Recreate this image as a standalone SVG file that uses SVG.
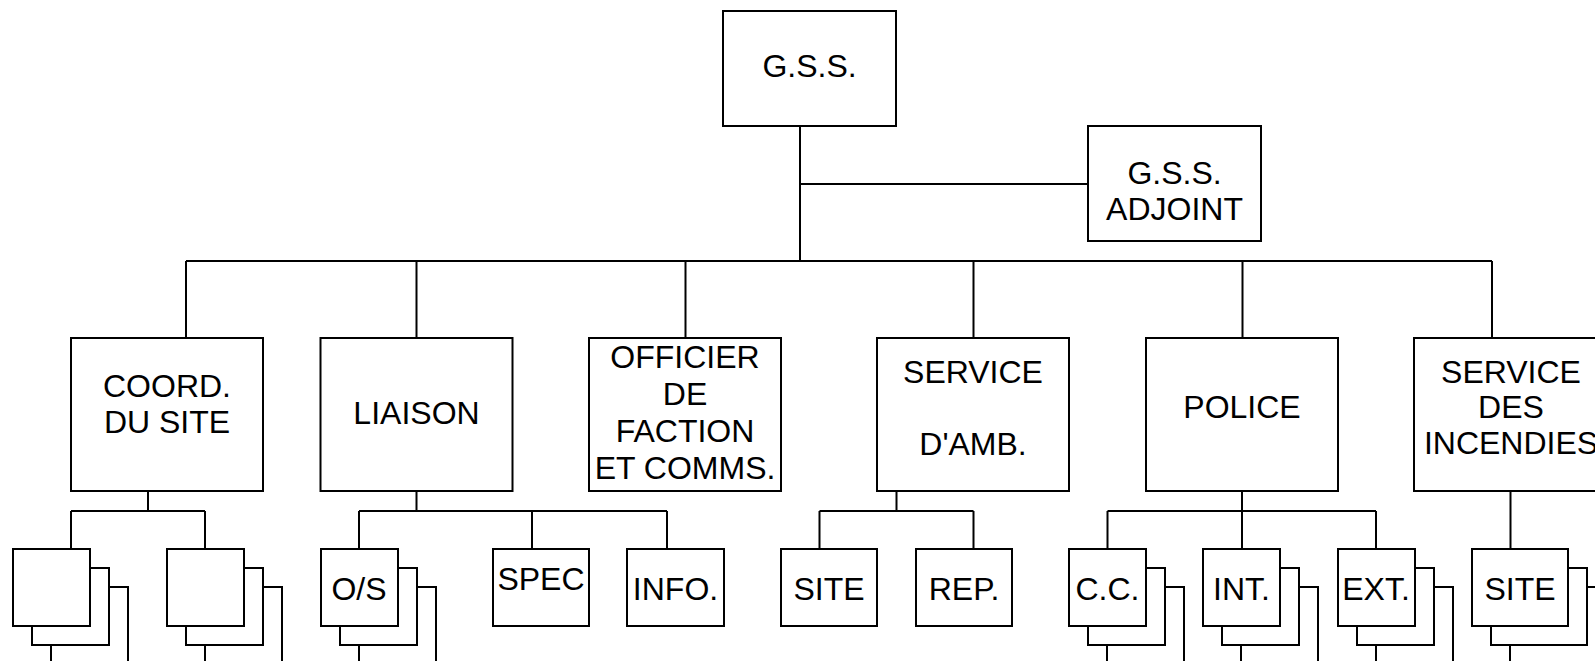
<svg xmlns="http://www.w3.org/2000/svg" width="1595" height="661" viewBox="0 0 1595 661">
<style>
.box{fill:#fff;stroke:#000;stroke-width:2}
.ln{fill:none;stroke:#000;stroke-width:2}
.t{font-family:"Liberation Sans",Arial,sans-serif;font-size:32px;text-anchor:middle;fill:#000}
</style>
<rect width="1595" height="661" fill="#fff"/>
<g id="connectors" class="ln">
<path d="M800 126V261M800 184H1088M186 261H1492"/>
<path d="M186 261V338M416.5 261V338M685.5 261V338M973.5 261V338M1242.5 261V338M1492 261V338"/>
<path d="M148 491V511M71 511H205M71 511V549M205 511V549"/>
<path d="M416.5 491V511M359 511H667M359 511V549M532 511V549M667 511V549"/>
<path d="M896.5 491V511M819.5 511H973.5M819.5 511V549M973.5 511V549"/>
<path d="M1242 491V511M1107.5 511H1376M1107.5 511V549M1242 511V549M1376 511V549"/>
<path d="M1510.5 491V549"/>
</g>
<g id="gss"><rect class="box" x="723" y="11" width="173" height="115"/><text class="t" x="809.5" y="77">G.S.S.</text></g>
<g id="gss-adjoint"><rect class="box" x="1088" y="126" width="173" height="115"/><text class="t" x="1174.5" y="184">G.S.S.</text><text class="t" x="1174.5" y="220">ADJOINT</text></g>
<g id="coord"><rect class="box" x="71" y="338" width="192" height="153"/><text class="t" x="167" y="397">COORD.</text><text class="t" x="167" y="433">DU SITE</text></g>
<g id="liaison"><rect class="box" x="320.5" y="338" width="192" height="153"/><text class="t" x="416.5" y="424">LIAISON</text></g>
<g id="officier"><rect class="box" x="589" y="338" width="192" height="153"/><text class="t" x="685" y="368">OFFICIER</text><text class="t" x="685" y="405">DE</text><text class="t" x="685" y="442">FACTION</text><text class="t" x="685" y="479">ET COMMS.</text></g>
<g id="amb"><rect class="box" x="877" y="338" width="192" height="153"/><text class="t" x="973" y="383">SERVICE</text><text class="t" x="973" y="455">D'AMB.</text></g>
<g id="police"><rect class="box" x="1146" y="338" width="192" height="153"/><text class="t" x="1242" y="418">POLICE</text></g>
<g id="incendies"><rect class="box" x="1414" y="338" width="192" height="153"/><text class="t" x="1511" y="383">SERVICE</text><text class="t" x="1511" y="418">DES</text><text class="t" x="1511" y="454">INCENDIES</text></g>
<g id="coord-a"><rect class="box" x="51" y="587" width="77" height="77"/><rect class="box" x="32" y="568" width="77" height="77"/><rect class="box" x="13" y="549" width="77" height="77"/></g>
<g id="coord-b"><rect class="box" x="205" y="587" width="77" height="77"/><rect class="box" x="186" y="568" width="77" height="77"/><rect class="box" x="167" y="549" width="77" height="77"/></g>
<g id="os"><rect class="box" x="359" y="587" width="77" height="77"/><rect class="box" x="340" y="568" width="77" height="77"/><rect class="box" x="321" y="549" width="77" height="77"/><text class="t" x="359" y="600">O/S</text></g>
<g id="spec"><rect class="box" x="493" y="549" width="96" height="77"/><text class="t" x="541" y="590">SPEC</text></g>
<g id="info"><rect class="box" x="627" y="549" width="97" height="77"/><text class="t" x="675.5" y="600">INFO.</text></g>
<g id="amb-site"><rect class="box" x="781" y="549" width="96" height="77"/><text class="t" x="829" y="600">SITE</text></g>
<g id="amb-rep"><rect class="box" x="916" y="549" width="96" height="77"/><text class="t" x="964" y="600">REP.</text></g>
<g id="cc"><rect class="box" x="1107" y="587" width="77" height="77"/><rect class="box" x="1088" y="568" width="77" height="77"/><rect class="box" x="1069" y="549" width="77" height="77"/><text class="t" x="1107.5" y="600">C.C.</text></g>
<g id="int"><rect class="box" x="1241" y="587" width="77" height="77"/><rect class="box" x="1222" y="568" width="77" height="77"/><rect class="box" x="1203" y="549" width="77" height="77"/><text class="t" x="1241.5" y="600">INT.</text></g>
<g id="ext"><rect class="box" x="1376" y="587" width="77" height="77"/><rect class="box" x="1357" y="568" width="77" height="77"/><rect class="box" x="1338" y="549" width="77" height="77"/><text class="t" x="1376" y="600">EXT.</text></g>
<g id="fire-site"><rect class="box" x="1510" y="587" width="96" height="77"/><rect class="box" x="1491" y="568" width="96" height="77"/><rect class="box" x="1472" y="549" width="96" height="77"/><text class="t" x="1520" y="600">SITE</text></g>
</svg>
